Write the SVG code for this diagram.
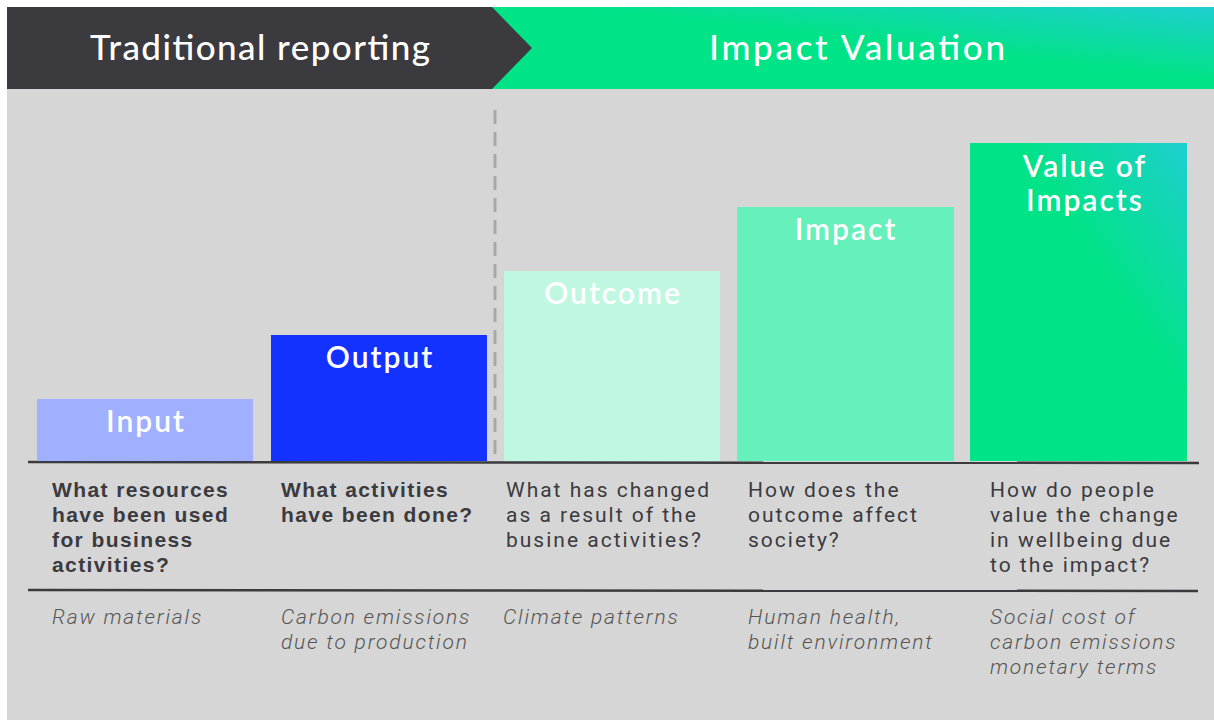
<svg xmlns="http://www.w3.org/2000/svg" width="1214" height="722" viewBox="0 0 1214 722">
<defs>
<linearGradient id="hdr" x1="0" y1="1" x2="1" y2="0" gradientUnits="objectBoundingBox">
<stop offset="0" stop-color="#00e386"/>
<stop offset="0.55" stop-color="#00e386"/>
<stop offset="1" stop-color="#1ecfcf"/>
</linearGradient>
<linearGradient id="vg" x1="0" y1="1" x2="1" y2="0">
<stop offset="0" stop-color="#00e386"/>
<stop offset="0.6" stop-color="#00e386"/>
<stop offset="1" stop-color="#1ecfcf"/>
</linearGradient>
<style>
.title{font-family:Lato,"Open Sans",sans-serif;font-size:35px;fill:#ffffff;font-weight:500}
.bl{font-family:Lato,"Open Sans",sans-serif;font-size:30px;fill:#ffffff;text-anchor:middle;font-weight:600;letter-spacing:2px}
.q{font-family:"Liberation Sans",Arial,sans-serif;font-size:21px;fill:#3b3a3f;font-weight:bold;letter-spacing:1.4px}
.qn{font-family:Roboto,"Liberation Sans",sans-serif;font-size:21px;fill:#3b3a3f;font-weight:400;letter-spacing:2px}
.ex{font-family:Roboto,"Liberation Sans",sans-serif;font-size:21px;fill:#555;font-style:italic;font-weight:300;letter-spacing:1.8px}
.rule{stroke:#3b3a3f;stroke-width:2.5;fill:none}
</style>
</defs>
<rect x="0" y="0" width="1214" height="722" fill="#ffffff"/>
<rect x="7" y="89" width="1207" height="631" fill="#d6d6d6"/>
<g id="header">
<rect x="492" y="7" width="722" height="82" fill="url(#hdr)"/>
<polygon points="7,7 492,7 532,48 492,89 7,89" fill="#3b3a3f"/>
<text class="title" x="90" y="60" textLength="340" lengthAdjust="spacing">Traditional reporting</text>
<text class="title" x="709" y="60" textLength="296" lengthAdjust="spacing">Impact Valuation</text>
</g>
<g id="connectors">
<line x1="495" y1="110" x2="495" y2="461" stroke="#a8a8a8" stroke-width="3" stroke-dasharray="14,8"/>
<line class="rule" x1="28" y1="462" x2="1199" y2="463"/>
<line class="rule" x1="28" y1="590" x2="1198" y2="591"/>
</g>
<g id="input">
<rect x="37" y="399" width="216" height="62" fill="#a0b0ff"/>
<text class="bl" x="146" y="432">Input</text>
<text class="q" x="52" y="497">What resources</text>
<text class="q" x="52" y="522">have been used</text>
<text class="q" x="52" y="547">for business</text>
<text class="q" x="52" y="572">activities?</text>
<text class="ex" x="52" y="624">Raw materials</text>
</g>
<g id="output">
<rect x="271" y="335" width="216" height="126" fill="#1432ff"/>
<text class="bl" x="380" y="368">Output</text>
<text class="q" x="281" y="497">What activities</text>
<text class="q" x="281" y="522">have been done?</text>
<text class="ex" x="281" y="624">Carbon emissions</text>
<text class="ex" x="281" y="649">due to production</text>
</g>
<g id="outcome">
<rect x="504" y="271" width="216" height="190" fill="#c0f7e1"/>
<text class="bl" x="613" y="304">Outcome</text>
<text class="qn" x="506" y="497">What has changed</text>
<text class="qn" x="506" y="522">as a result of the</text>
<text class="qn" x="506" y="547">busine activities?</text>
<text class="ex" x="503" y="624">Climate patterns</text>
</g>
<g id="impact">
<rect x="737" y="207" width="217" height="254" fill="#66f0bb"/>
<text class="bl" x="846" y="240">Impact</text>
<text class="qn" x="748" y="497">How does the</text>
<text class="qn" x="748" y="522">outcome affect</text>
<text class="qn" x="748" y="547">society?</text>
<text class="ex" x="748" y="624">Human health,</text>
<text class="ex" x="748" y="649">built environment</text>
</g>
<g id="value">
<rect x="970" y="143" width="217" height="318" fill="url(#vg)"/>
<text class="bl" x="1085" y="177">Value of</text>
<text class="bl" x="1085" y="211">Impacts</text>
<text class="qn" x="990" y="497">How do people</text>
<text class="qn" x="990" y="522">value the change</text>
<text class="qn" x="990" y="547">in wellbeing due</text>
<text class="qn" x="990" y="572">to the impact?</text>
<text class="ex" x="990" y="624">Social cost of</text>
<text class="ex" x="990" y="649">carbon emissions</text>
<text class="ex" x="990" y="674">monetary terms</text>
</g>
</svg>
